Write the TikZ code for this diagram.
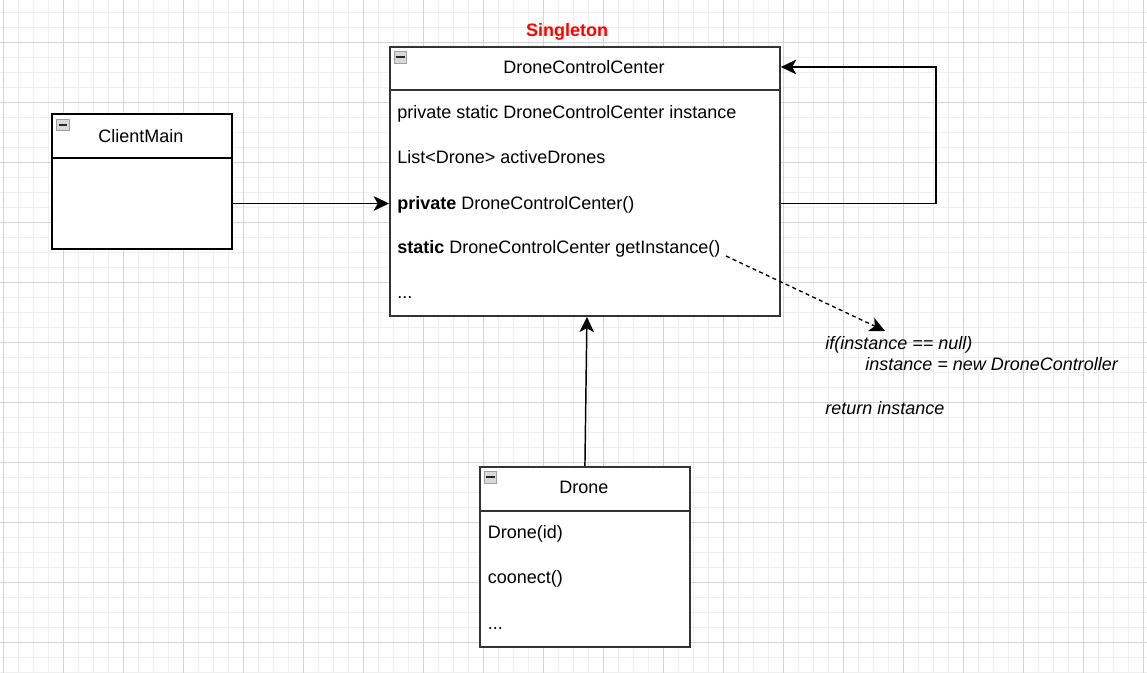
\documentclass[tikz,border=0pt]{standalone}
\usepackage{fontspec}
\setmainfont{Liberation Sans}
\usetikzlibrary{arrows.meta}
\definecolor{gridmin}{HTML}{EFEFEF}
\definecolor{gridmaj}{HTML}{D3D3D3}
\definecolor{boxline}{HTML}{333333}
\begin{document}
\begin{tikzpicture}[x=0.75pt,y=-0.75pt,
  font=\fontsize{13.5}{16}\selectfont,
  umlbox/.style={draw=boxline, line width=1.4pt, fill=white, inner sep=0pt, anchor=north west},
  sepline/.style={draw=boxline, line width=1.3pt},
  txt/.style={anchor=base west, inner sep=0pt},
  ttl/.style={anchor=base, inner sep=0pt},
  notetxt/.style={anchor=base west, inner sep=0pt, font=\fontsize{13.5}{16}\selectfont\itshape},
  arr/.style={draw=black, line width=1.1pt, -{Stealth[length=11.5pt,width=11pt,inset=3pt]}},
  dasharr/.style={arr, line width=1pt, dash pattern=on 3pt off 2.5pt},
  iconbox/.style={draw=gray!75, fill=gray!30, line width=0.6pt, minimum width=9.5pt, minimum height=8.5pt, inner sep=0pt,
    path picture={\draw[black!85, line width=1.5pt] ([xshift=1.6pt]path picture bounding box.west) -- ([xshift=-1.6pt]path picture bounding box.east);}},
  minorgrid/.style={draw=gridmin, line width=0.75pt},
  majorgrid/.style={draw=gridmaj, line width=0.75pt}
  ]
\fill[white] (0,0) rectangle (1147,673);
\useasboundingbox (0,0) rectangle (1147,673);
% grid
\foreach \i in {0,...,76} \draw[minorgrid] ({3.3+15*\i},0) -- ({3.3+15*\i},673);
\foreach \j in {0,...,44} \draw[minorgrid] (0,{12.3+15*\j}) -- (1147,{12.3+15*\j});
\foreach \i in {0,...,19} \draw[majorgrid] ({3.3+60*\i},0) -- ({3.3+60*\i},673);
\foreach \j in {0,...,10} \draw[majorgrid] (0,{42.3+60*\j}) -- (1147,{42.3+60*\j});

% DroneControlCenter
\node[umlbox, minimum width=292.5pt, minimum height=201.75pt] (dcc) at (389,46) {};
\draw[sepline] ([yshift=-33pt]dcc.north west) -- ([yshift=-33pt]dcc.north east);
\node[iconbox] (dccicon) at ([shift={(11.3,11.5)}]dcc.north west) {};
\node[ttl] (dccname) at (584,74) {DroneControlCenter};
\node[ttl, text=red, font=\fontsize{13.5}{16}\selectfont\bfseries] (single) at (567,36.7) {Singleton};
\node[txt] (d1) at (397,118.5) {private static DroneControlCenter instance};
\node[txt] (d2) at (397,164) {List<Drone> activeDrones};
\node[txt] (d3) at (397,209.5) {\textbf{private} DroneControlCenter()};
\node[txt] (d4) at (397,254) {\textbf{static} DroneControlCenter getInstance()};
\node[txt] (d5) at (397,298.5) {...};

% ClientMain
\node[umlbox, draw=black, line width=1.2pt, minimum width=135pt, minimum height=101.25pt] (cm) at (51,113) {};
\draw[sepline, draw=black, line width=1.2pt] ([yshift=-33.75pt]cm.north west) -- ([yshift=-33.75pt]cm.north east);
\node[iconbox] (cmicon) at ([shift={(12,12)}]cm.north west) {};
\node[ttl] (cmname) at (141,142.3) {ClientMain};

% Drone
\node[umlbox, minimum width=157.5pt, minimum height=135pt] (drone) at (479,466) {};
\draw[sepline] ([yshift=-33.75pt]drone.north west) -- ([yshift=-33.75pt]drone.north east);
\node[iconbox] (dricon) at ([shift={(11.3,11.5)}]drone.north west) {};
\node[ttl] (drname) at (584,494) {Drone};
\node[txt] (r1) at (487.5,539) {Drone(id)};
\node[txt] (r2) at (487.5,584) {coonect()};
\node[txt] (r3) at (487.5,629) {...};

% note
\node[notetxt] (n1) at (825,349.3) {if(instance == null)};
\node[notetxt] (n2) at (865,371) {instance = new DroneController};
\node[notetxt] (n3) at (825,414.3) {return instance};

% connectors
\coordinate (ypriv) at (0,203.5);
\coordinate (lp) at (936,67);
\coordinate (gs) at (726,256);
\coordinate (nt) at (885,331);
\draw[arr] (cm.east |- ypriv) -- (dcc.west |- ypriv);
\draw[arr] (dcc.east |- ypriv) -| (lp) -- (dcc.east |- lp);
\draw[arr] (drone.north) -- ([xshift=1.5pt]dcc.south);
\draw[dasharr] (gs) -- (nt);
\end{tikzpicture}
\end{document}
